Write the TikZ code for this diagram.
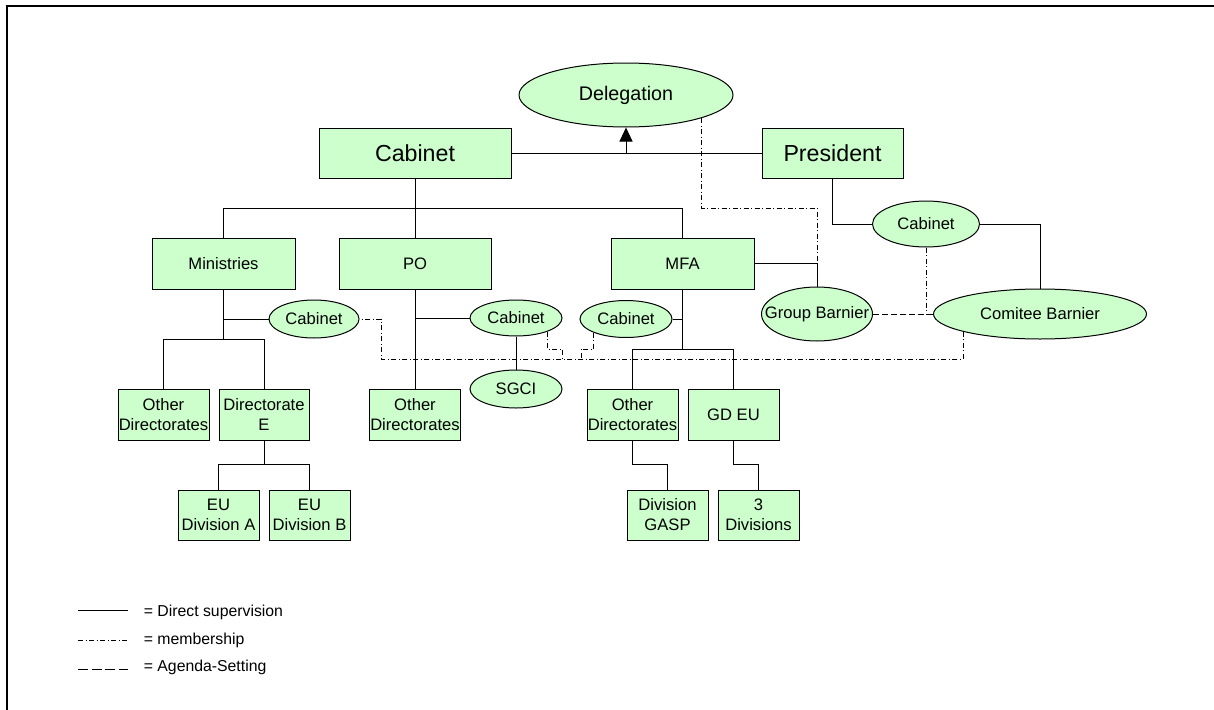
\documentclass[tikz,border=0pt]{standalone}
\usepackage{fontspec}
\setmainfont{Liberation Sans}
\usetikzlibrary{shapes.geometric,arrows.meta}
\definecolor{paleGreen}{HTML}{CCFFCC}
\newcommand{\otext}[1]{\makebox[0pt]{#1}}
\tikzset{
  unit/.style={draw, fill=paleGreen, inner sep=0pt, align=center, font=\fontsize{16.6}{20}\selectfont},
  oval/.style={ellipse, draw, fill=paleGreen, inner sep=0pt, font=\fontsize{16.6}{20}\selectfont},
  member/.style={dash pattern=on 5pt off 2.5pt on 1pt off 2.5pt},
  agenda/.style={dash pattern=on 6pt off 3pt},
  keytext/.style={anchor=west, font=\fontsize{15.8}{19}\selectfont}
}

\begin{document}
\begin{tikzpicture}[x=1pt, y=-1pt, line width=1pt]
\useasboundingbox (0,0) rectangle (1214,709);
% Frame
\draw[line width=2pt] (7,730) -- (7,6) -- (1230,6);

% Top level
\node[oval, minimum width=214, minimum height=64, font=\fontsize{19.7}{24}\selectfont] (deleg) at (626,95) {\otext{Delegation}};
\node[unit, minimum width=192, minimum height=50, font=\fontsize{23.2}{28}\selectfont] (cab) at (415,153) {Cabinet};
\node[unit, minimum width=141, minimum height=50, font=\fontsize{23.2}{28}\selectfont] (pres) at (832.5,153) {President};

% Second level
\node[unit, minimum width=143, minimum height=51] (min) at (223.5,263.5) {Ministries};
\node[unit, minimum width=152, minimum height=51] (po) at (415,263.5) {PO};
\node[unit, minimum width=143, minimum height=51] (mfa) at (682.5,263.5) {MFA};

% Cabinets and committees
\node[oval, minimum width=90, minimum height=38] (mcab) at (314,319) {\otext{Cabinet}};
\node[oval, minimum width=92, minimum height=36] (pocab) at (516,318) {\otext{Cabinet}};
\node[oval, minimum width=92, minimum height=37] (fcab) at (626,319) {\otext{Cabinet}};
\node[oval, minimum width=92, minimum height=38] (sgci) at (516,389) {\otext{SGCI}};
\node[oval, minimum width=107, minimum height=46] (pcab) at (926,224) {\otext{Cabinet}};
\node[oval, minimum width=111, minimum height=54] (gb) at (817,314) {\otext{Group Barnier}};
\node[oval, minimum width=213, minimum height=50] (cb) at (1040,314) {\otext{Comitee Barnier}};

% Directorates
\node[unit, minimum width=91, minimum height=51] (mod) at (163.5,414.5) {Other\\Directorates};
\node[unit, minimum width=90, minimum height=51] (dire) at (264,414.5) {Directorate\\E};
\node[unit, minimum width=91, minimum height=51] (pod) at (415,414.5) {Other\\Directorates};
\node[unit, minimum width=91, minimum height=51] (fod) at (632.5,414.5) {Other\\Directorates};
\node[unit, minimum width=91, minimum height=51] (gdeu) at (733.5,414.5) {GD EU};

% Divisions
\node[unit, minimum width=81, minimum height=50] (eua) at (218.5,515) {EU\\Division A};
\node[unit, minimum width=81, minimum height=50] (eub) at (309.5,515) {EU\\Division B};
\node[unit, minimum width=81, minimum height=50] (gasp) at (667.5,515) {Division\\GASP};
\node[unit, minimum width=81, minimum height=50] (div3) at (758.5,515) {3\\Divisions};

% Direct supervision
\draw (cab) -- (pres);
\draw[-{Triangle[length=14pt,width=13pt]}] (cab.east -| deleg.south) -- (deleg.south);
\draw (cab.south) -- ++(0,30) coordinate (cb1);
\draw (min.north) |- (cb1) -| (mfa.north);
\draw (cb1) -- (po.north);
\draw (min.south) -- ++(0,50) coordinate (mb1);
\draw (mcab.west) -- (mcab.west -| min.south);
\draw (mod.north) |- (mb1) -| (dire.north);
\draw (dire.south) -- ++(0,24) coordinate (db1);
\draw (eua.north) |- (db1) -| (eub.north);
\draw (po.south) -- (pod.north);
\draw (pocab.west) -- (pocab.west -| po.south);
\draw (pocab) -- (sgci);
\draw (mfa.south) -- ++(0,60) coordinate (fb1);
\draw (fcab.east) -- (fcab.east -| mfa.south);
\draw (fod.north) |- (fb1) -| (gdeu.north);
\draw (fod.south) -- ++(0,24) -| (gasp.north);
\draw (gdeu.south) -- ++(0,24) -| (div3.north);
\draw (mfa.east) -| (gb.north);
\draw (pres.south) |- (pcab.west);
\draw (pcab.east) -| (cb.north);

% Membership
\coordinate (mj) at (817,208);
\coordinate (mb) at (381,359);
\coordinate (pj) at (562,359);
\coordinate (fj) at (581,359);
\draw[member] (deleg.-17) |- (mj) -- (gb.north);
\draw[member] (pcab.south) |- (cb.west);
\draw[member] (cb.193) |- (mb) |- (mcab.east);
\draw[member] (pocab.-23) |- ([yshift=10pt]pj) -- (pj);
\draw[member] (fcab.203) |- ([yshift=10pt]fj) -- (fj);

% Agenda-setting
\draw[agenda] (gb.east) -- (cb.west);

% Legend
\draw (78,610) -- (128,610);
\draw[member] (78,640) -- (128,640);
\draw[agenda, dash pattern=on 10pt off 3.5pt] (78,669) -- (128,669);
\node[keytext] (ksup) at (140,612) {= Direct supervision};
\node[keytext] (kmem) at (140,640) {= membership};
\node[keytext] (kage) at (140,667) {= Agenda-Setting};
\end{tikzpicture}
\end{document}
